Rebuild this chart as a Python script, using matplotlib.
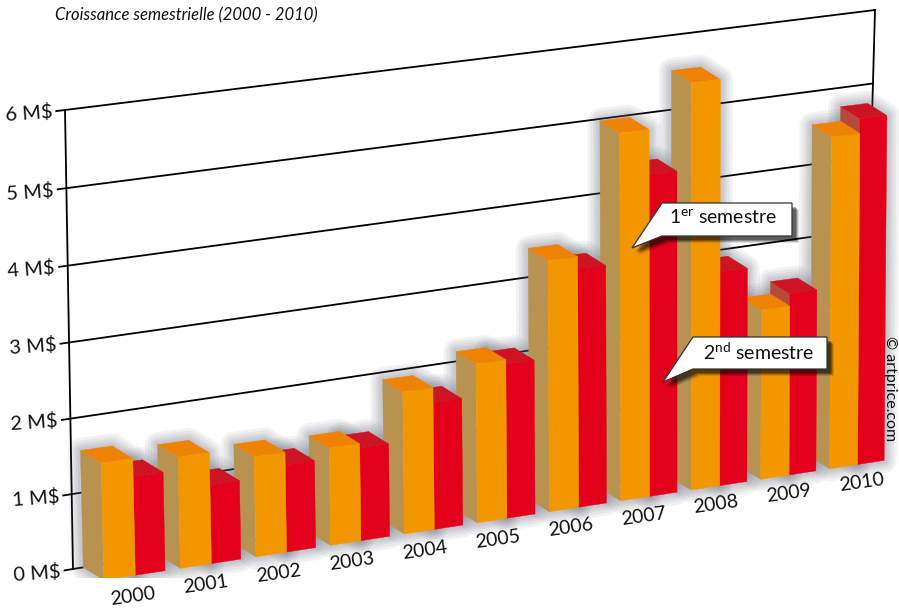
import numpy as np
import matplotlib
matplotlib.use('Agg')
import matplotlib.pyplot as plt
from matplotlib.patches import Polygon, Rectangle

plt.rcParams['font.family'] = ['Lato', 'DejaVu Sans']
plt.rcParams['mathtext.fontset'] = 'custom'
plt.rcParams['mathtext.rm'] = 'Lato'

years = ['2000', '2001', '2002', '2003', '2004', '2005', '2006', '2007', '2008', '2009', '2010']
first_sem = [1.55, 1.48, 1.34, 1.31, 1.92, 2.16, 3.42, 5.01, 5.57, 2.35, 4.6]
second_sem = [1.31, 1.05, 1.17, 1.25, 1.72, 2.1, 3.25, 4.4, 2.95, 2.52, 4.8]
value_ticks = [0, 1, 2, 3, 4, 5, 6]
tick_labels = ['0 M$', '1 M$', '2 M$', '3 M$', '4 M$', '5 M$', '6 M$']

TAN = '#b79250'
ORANGE = '#f39700'
ORANGE_TOP = '#ee8205'
RED = '#e2001a'
RED_TOP = '#cc1424'
RED_SIDE = '#b84a3c'

# scene calibration: (group, value, depth) -> picture pixel
calib = [((0, 0, 0), (103, 581)), ((0, 1.55, 0), (102, 463)),
         ((0, 0, 1), (83, 567)), ((0, 1.55, 1), (82, 449)),
         ((10, 0, 0), (828, 467)), ((10, 4.6, 0), (834, 137)),
         ((10, 0, 1), (815, 460)), ((10, 4.6, 1), (809, 127)),
         ((0.8, 0, 0), (165, 573)), ((10.8, 0, 0), (882, 458)),
         ((10.8, 4.8, 0), (889, 117)), ((5, 0, 0), (477, 523)),
         ((7, 0, 0), (620, 500)), ((6, 3.42, 1), (527, 247)),
         ((7, 5.01, 1), (599, 119)), ((8, 5.57, 1), (671, 70))]

# back wall corners: (position 0-1, value) -> picture pixel
wall = [((0, 0), (73, 569)), ((0, 6), (65, 110)),
        ((1, 6), (875, 10)), ((1, 0), (863, 442))]


def solve_projection(pairs):
    rows = []
    for src, (px, py) in pairs:
        h = list(src) + [1]
        n = len(h)
        rows.append(h + [0] * n + [-px * c for c in h])
        rows.append([0] * n + h + [-py * c for c in h])
    m = np.linalg.svd(np.array(rows, dtype=float))[2][-1]
    return m.reshape(3, -1)


P = solve_projection(calib)
W = solve_projection(wall)


def project(mat, *coords):
    x, y, z = mat @ np.array(list(coords) + [1.0])
    return x / z, y / z


def bar_pt(u, v, d):
    return project(P, u, v, d)


fig = plt.figure(figsize=(8.99, 6.09), dpi=100)
ax = fig.add_axes([0, 0, 1, 1])
ax.set_xlim(0, 899)
ax.set_ylim(609, 0)
ax.axis('off')

# wall grid and axes
for val, lab in zip(value_ticks, tick_labels):
    a = project(W, -0.01, val)
    b = project(W, 1, val)
    ax.plot([a[0], b[0]], [a[1], b[1]], color='black', lw=1.3, zorder=1)
    ax.text(a[0] - 4, a[1] + 1, lab, ha='right', va='center', fontsize=14.5,
            rotation=4, rotation_mode='anchor', color='#111111', zorder=9)
for pos in [0, 1]:
    a = project(W, pos, 0)
    b = project(W, pos, 6)
    ax.plot([a[0], b[0]], [a[1], b[1]], color='black', lw=1.3, zorder=1)

clip = Rectangle((0, 0), 899, 578, transform=ax.transData)
width_a = 0.41
width_b = 0.39


def face(pts, color, z):
    poly = Polygon(pts, closed=True, facecolor=color, edgecolor=color, lw=0.3, zorder=z)
    ax.add_patch(poly)
    poly.set_clip_path(clip)


# soft glow behind the bars
for i in range(len(years)):
    va, vb = first_sem[i], second_sem[i]
    m = i + width_a
    r = i + width_a + width_b
    for vv, lft, rgt in [(va, i, m), (vb, m, r)]:
        outline = [bar_pt(lft, 0, 0), bar_pt(lft, 0, 1), bar_pt(lft, vv, 1),
                   bar_pt(rgt, vv, 1), bar_pt(rgt, vv, 0), bar_pt(rgt, 0, 0)]
        for lw in [18, 14, 10, 7, 4]:
            g = Polygon(outline, closed=True, facecolor='none', edgecolor='#5a6470',
                        lw=lw, alpha=0.08, joinstyle='round', zorder=2)
            ax.add_patch(g)
            g.set_clip_path(clip)

# right to left, each year lies over the next one
z = 3
for i in reversed(range(len(years))):
    va, vb = first_sem[i], second_sem[i]
    m = i + width_a
    r = i + width_a + width_b
    face([bar_pt(m, 0, 0), bar_pt(m, 0, 1), bar_pt(m, vb, 1), bar_pt(m, vb, 0)], RED_SIDE, z)
    face([bar_pt(m, vb, 0), bar_pt(m, vb, 1), bar_pt(r, vb, 1), bar_pt(r, vb, 0)], RED_TOP, z + 0.1)
    face([bar_pt(i, 0, 0), bar_pt(i, 0, 1), bar_pt(i, va, 1), bar_pt(i, va, 0)], TAN, z + 0.2)
    face([bar_pt(i, va, 0), bar_pt(i, va, 1), bar_pt(m, va, 1), bar_pt(m, va, 0)], ORANGE_TOP, z + 0.3)
    face([bar_pt(m, 0, 0), bar_pt(m, vb, 0), bar_pt(r, vb, 0), bar_pt(r, 0, 0)], RED, z + 0.4)
    face([bar_pt(i, 0, 0), bar_pt(i, va, 0), bar_pt(m, va, 0), bar_pt(m, 0, 0)], ORANGE, z + 0.5)
    z += 1

# year labels run evenly along their own slanted line
for i, year in enumerate(years):
    ax.text(133 + 72.9 * i, 596 - 11.4 * i, year, ha='center', va='center', fontsize=14,
            rotation=8, rotation_mode='anchor', color='#111111', zorder=30)


def callout(box, tip, label, tx, ty):
    x0, y0, x1, y1 = box
    pts = [(x0, y0), (x1, y0), (x1, y1), (x0, y1), tip]
    for off, al in [(7, 0.12), (6, 0.18), (5, 0.25), (4, 0.3)]:
        ax.add_patch(Polygon([(a + off, b + off) for a, b in pts], closed=True,
                             facecolor='black', edgecolor='none', alpha=al, zorder=40))
    ax.add_patch(Polygon(pts, closed=True, facecolor='white', edgecolor='#333333', lw=0.9, zorder=41))
    ax.text(tx, ty, label, ha='center', va='center', fontsize=14, color='#111111', zorder=42)


callout((662, 203, 792, 236), (632, 248), r'1$^{\mathrm{er}}$ semestre', 723, 218)
callout((693, 337, 827, 369), (663, 382), r'2$^{\mathrm{nd}}$ semestre', 759, 352)

ax.text(55, 15, 'Croissance semestrielle (2000 - 2010)', ha='left', va='center',
        fontsize=12, style='italic', color='#111111')
ax.text(890, 389, '© artprice.com', rotation=-90, ha='center', va='center', fontsize=11.5,
        color='#111111')

fig.savefig('out.png', dpi=100)
